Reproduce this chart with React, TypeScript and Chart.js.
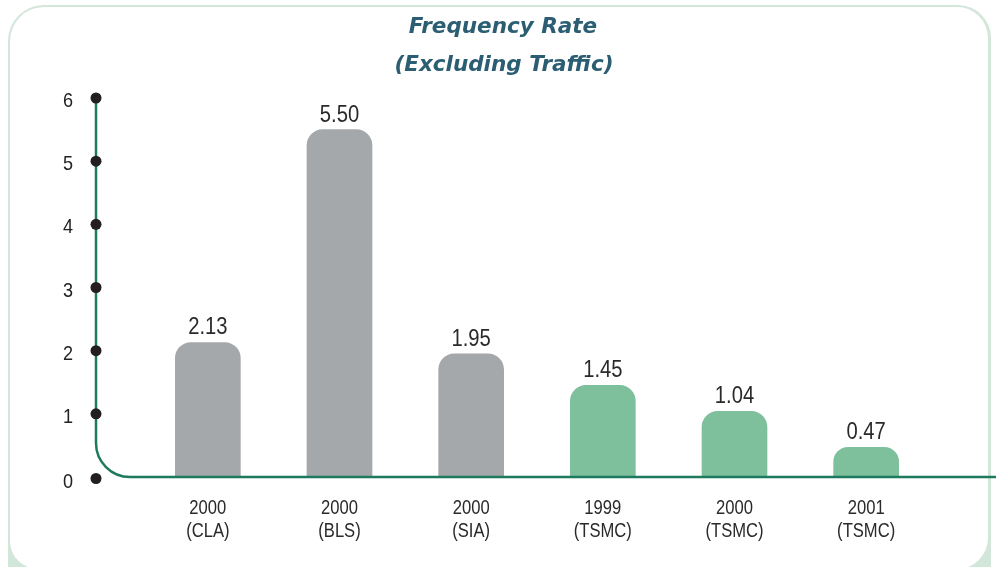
import React, { useEffect, useRef } from "react";
import { Chart, registerables } from "chart.js";

Chart.register(...registerables);

const categoryYears = ["2000", "2000", "2000", "1999", "2000", "2001"];
const categorySources = ["(CLA)", "(BLS)", "(SIA)", "(TSMC)", "(TSMC)", "(TSMC)"];
const frequencyRates = [2.13, 5.5, 1.95, 1.45, 1.04, 0.47];
const valueLabels = ["2.13", "5.50", "1.95", "1.45", "1.04", "0.47"];
const barColors = ["#a5a8ab", "#a5a8ab", "#a5a8ab", "#7ebf9c", "#7ebf9c", "#7ebf9c"];
const yTicks = [0, 1, 2, 3, 4, 5, 6];
const titleLines = ["Frequency Rate", "(Excluding Traffic)"];

const SANS = '"Liberation Sans", Arial, sans-serif';

function drawNarrow(
  ctx: CanvasRenderingContext2D,
  text: string,
  x: number,
  y: number,
  sx: number,
  align: CanvasTextAlign
) {
  ctx.save();
  ctx.translate(x, y);
  ctx.scale(sx, 1);
  ctx.textAlign = align;
  ctx.fillText(text, 0, 0);
  ctx.restore();
}

const decorPlugin = {
  id: "decor",
  beforeDraw(chart: any) {
    const ctx = chart.ctx as CanvasRenderingContext2D;
    ctx.save();
    ctx.fillStyle = "#ffffff";
    ctx.fillRect(0, 0, 996, 567);
    // outer green frame
    ctx.fillStyle = "#d3e6da";
    ctx.beginPath();
    ctx.moveTo(8, 600);
    ctx.lineTo(8, 41);
    ctx.arcTo(8, 5, 44, 5, 36);
    ctx.lineTo(958, 5);
    ctx.arcTo(991, 5, 991, 38, 33);
    ctx.lineTo(991, 600);
    ctx.closePath();
    ctx.fill();
    // inner white panel
    ctx.fillStyle = "#ffffff";
    ctx.beginPath();
    ctx.moveTo(10, 540);
    ctx.lineTo(10, 41);
    ctx.arcTo(10, 7, 44, 7, 34);
    ctx.lineTo(958, 7);
    ctx.arcTo(988, 7, 988, 38, 31);
    ctx.lineTo(988, 538);
    ctx.arcTo(988, 569, 957, 569, 31);
    ctx.lineTo(38, 569);
    ctx.arcTo(10, 569, 10, 541, 28);
    ctx.closePath();
    ctx.fill();
    ctx.restore();
  },
  afterDatasetsDraw(chart: any) {
    const ctx = chart.ctx as CanvasRenderingContext2D;
    const xs = chart.scales.x;
    const ys = chart.scales.y;
    const axisX = 96;
    const y0 = ys.getPixelForValue(0);
    const yTop = ys.getPixelForValue(yTicks[yTicks.length - 1]);
    const r = 34;
    ctx.save();
    // axis line with curved corner
    ctx.strokeStyle = "#1d7a5e";
    ctx.lineWidth = 2.5;
    ctx.beginPath();
    ctx.moveTo(axisX, yTop);
    ctx.lineTo(axisX, y0 - r);
    ctx.arcTo(axisX, y0, axisX + r, y0, r);
    ctx.lineTo(996, y0);
    ctx.stroke();
    // tick dots and labels
    ctx.font = `21px ${SANS}`;
    ctx.textBaseline = "alphabetic";
    yTicks.forEach((t) => {
      const py = ys.getPixelForValue(t);
      const dy = t === 0 ? py + 1.5 : py;
      ctx.fillStyle = "#231f20";
      ctx.beginPath();
      ctx.arc(axisX, dy, 5.5, 0, Math.PI * 2);
      ctx.fill();
      ctx.fillStyle = "#222222";
      drawNarrow(ctx, String(t), 73, dy + 9, 0.86, "right");
    });
    // category labels
    ctx.font = `20px ${SANS}`;
    ctx.fillStyle = "#2a2a2a";
    categoryYears.forEach((yr, i) => {
      const px = xs.getPixelForValue(i);
      drawNarrow(ctx, yr, px, 514, 0.83, "center");
      drawNarrow(ctx, categorySources[i], px, 537, 0.83, "center");
    });
    // value labels
    ctx.font = `23.5px ${SANS}`;
    ctx.fillStyle = "#2a2a2a";
    const meta = chart.getDatasetMeta(0);
    meta.data.forEach((bar: any, i: number) => {
      drawNarrow(ctx, valueLabels[i], bar.x, bar.y - 8, 0.86, "center");
    });
    // title
    ctx.font = 'italic bold 21.5px "DejaVu Sans", Verdana, sans-serif';
    ctx.fillStyle = "#2c5e73";
    ctx.textAlign = "center";
    ctx.textBaseline = "alphabetic";
    ctx.fillText(titleLines[0], 503, 33);
    ctx.fillText(titleLines[1], 504, 71);
    ctx.restore();
  },
};

export default function App() {
  const canvasRef = useRef<HTMLCanvasElement | null>(null);

  useEffect(() => {
    document.body.style.margin = "0";
    const canvas = canvasRef.current;
    if (!canvas) return;
    const chart = new Chart(canvas, {
      type: "bar",
      data: {
        labels: categoryYears.map((y, i) => [y, categorySources[i]]),
        datasets: [
          {
            data: frequencyRates,
            backgroundColor: barColors,
            borderWidth: 0,
            borderRadius: { topLeft: 16, topRight: 16, bottomLeft: 0, bottomRight: 0 },
            borderSkipped: "bottom",
            barThickness: 65,
          },
        ],
      },
      options: {
        responsive: false,
        animation: false,
        devicePixelRatio: 1,
        layout: { padding: { left: 142, right: 64, top: 98, bottom: 90 } },
        scales: {
          x: { display: false },
          y: { display: false, min: 0, max: 6 },
        },
        plugins: {
          legend: { display: false },
          tooltip: { enabled: false },
          title: { display: false },
        },
      },
      plugins: [decorPlugin],
    } as any);
    return () => chart.destroy();
  }, []);

  return (
    <div style={{ position: "fixed", left: 0, top: 0, width: 996, height: 567, background: "#ffffff" }}>
      <canvas ref={canvasRef} width={996} height={567} style={{ width: 996, height: 567, display: "block" }} />
    </div>
  );
}
